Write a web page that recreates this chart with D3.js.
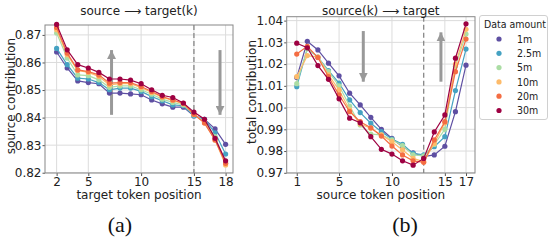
<!DOCTYPE html>
<html><head><meta charset="utf-8">
<script src="https://cdn.jsdelivr.net/npm/d3@7"></script>
<style>body{margin:0;background:#fff}svg{display:block}</style>
</head><body>
<svg id="c" width="549" height="241"></svg>
<script>
const seriesNames = ["1m","2.5m","5m","10m","20m","30m"];
const seriesColors = ["#5e4fa2","#45a2c2","#abdda4","#fdbb6a","#f46d43","#9e0142"];

const xA = [2,3,4,5,6,7,8,9,10,11,12,13,14,15,16,17,18];
const a1m  = [0.8638,0.8580,0.8533,0.8527,0.8523,0.8489,0.8489,0.8486,0.8483,0.8464,0.8450,0.8438,0.8438,0.8406,0.8394,0.8359,0.8303];
const a25m = [0.8651,0.8592,0.8543,0.8540,0.8527,0.8501,0.8507,0.8507,0.8495,0.8476,0.8461,0.8446,0.8443,0.8407,0.8394,0.8345,0.8268];
const a5m  = [0.8707,0.8616,0.8555,0.8552,0.8537,0.8510,0.8515,0.8515,0.8501,0.8485,0.8467,0.8455,0.8446,0.8410,0.8385,0.8331,0.8234];
const a10m = [0.8719,0.8628,0.8571,0.8564,0.8549,0.8519,0.8523,0.8523,0.8509,0.8491,0.8474,0.8462,0.8450,0.8412,0.8382,0.8319,0.8228];
const a20m = [0.8727,0.8634,0.8573,0.8567,0.8555,0.8525,0.8527,0.8527,0.8513,0.8495,0.8476,0.8464,0.8452,0.8412,0.8380,0.8319,0.8234];
const a30m = [0.8738,0.8646,0.8592,0.8580,0.8564,0.8540,0.8540,0.8536,0.8523,0.8501,0.8481,0.8473,0.8453,0.8420,0.8394,0.8325,0.8243];

const xB = [1,2,3,4,5,6,7,8,9,10,11,12,13,14,15,16,17];
const b1m  = [1.0138,1.0305,1.0265,1.0204,1.0146,1.0066,1.0012,0.9955,0.9900,0.9858,0.9820,0.9792,0.9774,0.9782,0.9822,0.9981,1.0195];
const b25m = [1.0096,1.0272,1.0232,1.0170,1.0112,1.0035,0.9977,0.9928,0.9889,0.9855,0.9831,0.9789,0.9782,0.9820,0.9866,1.0078,1.0269];
const b5m  = [1.0110,1.0270,1.0232,1.0165,1.0100,1.0007,0.9920,0.9878,0.9874,0.9852,0.9825,0.9782,0.9778,0.9830,0.9900,1.0190,1.0338];
const b10m = [1.0142,1.0239,1.0232,1.0150,1.0081,0.9989,0.9924,0.9905,0.9874,0.9843,0.9805,0.9766,0.9751,0.9835,0.9930,1.0200,1.0360];
const b20m = [1.0246,1.0282,1.0230,1.0142,1.0058,0.9981,0.9935,0.9907,0.9869,0.9823,0.9782,0.9755,0.9748,0.9851,0.9935,1.0165,1.0315];
const b30m = [1.0296,1.0275,1.0193,1.0130,1.0040,0.9951,0.9930,0.9866,0.9808,0.9786,0.9755,0.9735,0.9766,0.9888,0.9966,1.0227,1.0385];

const xTicksA = [2,5,10,15,18];
const yTicksA = [0.82,0.83,0.84,0.85,0.86,0.87];
const xTicksB = [1,5,10,15,17];
const yTicksB = [0.97,0.98,0.99,1.00,1.01,1.02,1.03,1.04];

const svg = d3.select("#c");
const FONT = "DejaVu Sans, sans-serif";
const LFONT = "DejaVu Sans Condensed, DejaVu Sans, sans-serif";

const defs = svg.append("defs");
defs.append("marker").attr("id","ah").attr("viewBox","0 0 10 10")
  .attr("refX",10).attr("refY",5).attr("markerWidth",3).attr("markerHeight",3)
  .attr("markerUnits","strokeWidth").attr("orient","auto")
  .append("path").attr("d","M0,0 L10,5 L0,10 Z").attr("fill","#999");

function panel(cfg){
  const x = d3.scaleLinear().domain(cfg.xDom).range([cfg.left,cfg.right]);
  const y = d3.scaleLinear().domain(cfg.yDom).range([cfg.bottom,cfg.top]);
  const g = svg.append("g");
  g.selectAll(".gx").data(cfg.xTicks).enter().append("line")
    .attr("x1",d=>x(d)).attr("x2",d=>x(d)).attr("y1",cfg.top).attr("y2",cfg.bottom)
    .attr("stroke","#dcdcdc").attr("stroke-width",1);
  g.selectAll(".gy").data(cfg.yTicks).enter().append("line")
    .attr("y1",d=>y(d)).attr("y2",d=>y(d)).attr("x1",cfg.left).attr("x2",cfg.right)
    .attr("stroke","#dcdcdc").attr("stroke-width",1);
  const xa = g.append("g").attr("transform",`translate(0,${cfg.bottom})`)
    .call(d3.axisBottom(x).tickValues(cfg.xTicks).tickFormat(d3.format("d")).tickSize(3).tickPadding(1.5));
  const ya = g.append("g").attr("transform",`translate(${cfg.left},0)`)
    .call(d3.axisLeft(y).tickValues(cfg.yTicks).tickFormat(d3.format(".2f")).tickSize(2.5).tickPadding(1));
  [xa,ya].forEach(a=>{
    a.select(".domain").remove();
    a.selectAll("line").attr("stroke","#555");
    a.selectAll("text").attr("font-family",FONT).attr("font-size",12).attr("fill","#222");
  });
  g.append("rect").attr("x",cfg.left).attr("y",cfg.top)
    .attr("width",cfg.right-cfg.left).attr("height",cfg.bottom-cfg.top)
    .attr("fill","none").attr("stroke","#888").attr("stroke-width",1);
  g.append("line").attr("x1",x(cfg.dash)).attr("x2",x(cfg.dash))
    .attr("y1",cfg.top).attr("y2",cfg.bottom)
    .attr("stroke","#888").attr("stroke-width",1.3).attr("stroke-dasharray","5,3");
  cfg.arrows.forEach(a=>{
    g.append("line").attr("x1",x(a[0])).attr("x2",x(a[0]))
      .attr("y1",y(a[1])).attr("y2",y(a[2]))
      .attr("stroke","#999").attr("stroke-width",3).attr("marker-end","url(#ah)");
  });
  const line = d3.line().x(d=>x(d[0])).y(d=>y(d[1]));
  cfg.series.forEach((vals,i)=>{
    const pts = cfg.xs.map((xv,j)=>[xv,vals[j]]);
    g.append("path").datum(pts).attr("d",line).attr("fill","none")
      .attr("stroke",seriesColors[i]).attr("stroke-width",1.2);
    g.selectAll(null).data(pts).enter().append("circle")
      .attr("cx",d=>x(d[0])).attr("cy",d=>y(d[1])).attr("r",2.6)
      .attr("fill",seriesColors[i]);
  });
  g.append("text").attr("x",(cfg.left+cfg.right)/2).attr("y",14.5).attr("text-anchor","middle")
    .attr("font-family",FONT).attr("font-size",12).attr("fill","#222").text(cfg.title);
  g.append("text").attr("x",(cfg.left+cfg.right)/2).attr("y",198.5).attr("text-anchor","middle")
    .attr("font-family",FONT).attr("font-size",12).attr("fill","#222").text(cfg.xLabel);
  g.append("text").attr("transform",`translate(${cfg.yLabelX},${cfg.yLabelY}) rotate(-90)`)
    .attr("text-anchor","middle").attr("font-family",FONT).attr("font-size",12).attr("fill","#222").text(cfg.yLabel);
  g.append("text").attr("x",cfg.capX).attr("y",232).attr("text-anchor","middle")
    .attr("font-family","Liberation Serif, serif").attr("font-size",22).attr("fill","#111").text(cfg.caption);
}

panel({
  xDom:[0.9,18.7], yDom:[0.8199,0.8736], left:45, right:233, top:25, bottom:173,
  xTicks:xTicksA, yTicks:yTicksA, dash:15, xs:xA,
  series:[a1m,a25m,a5m,a10m,a20m,a30m],
  arrows:[[7.2,0.8410,0.8645],[17.47,0.8645,0.8410]],
  title:"source \u27F6 target(k)", xLabel:"target token position", yLabel:"source contribution",
  yLabelX:15, yLabelY:96, capX:120, caption:"(a)"
});
panel({
  xDom:[0.05,17.85], yDom:[0.9699,1.0418], left:286.7, right:475, top:16.7, bottom:173,
  xTicks:xTicksB, yTicks:yTicksB, dash:13, xs:xB,
  series:[b1m,b25m,b5m,b10m,b20m,b30m],
  arrows:[[7.29,1.0352,1.0119],[14.63,1.0119,1.0346]],
  title:"source(k) \u27F6 target", xLabel:"source token position", yLabel:"total contribution",
  yLabelX:256, yLabelY:92, capX:405, caption:"(b)"
});

const lg = svg.append("g");
lg.append("rect").attr("x",479.5).attr("y",15.5).attr("width",68).attr("height",104)
  .attr("rx",2.5).attr("fill","#fff").attr("stroke","#d0d0d0");
lg.append("text").attr("x",515).attr("y",28).attr("text-anchor","middle")
  .attr("font-family",LFONT).attr("font-size",10.5).attr("fill","#222").text("Data amount");
seriesNames.forEach((n,i)=>{
  const cy = 39 + i*14.3;
  lg.append("circle").attr("cx",499).attr("cy",cy).attr("r",2.6).attr("fill",seriesColors[i]);
  lg.append("text").attr("x",517).attr("y",cy+3.8).attr("font-family",LFONT)
    .attr("font-size",10.5).attr("fill","#222").text(n);
});
</script>
</body></html>
